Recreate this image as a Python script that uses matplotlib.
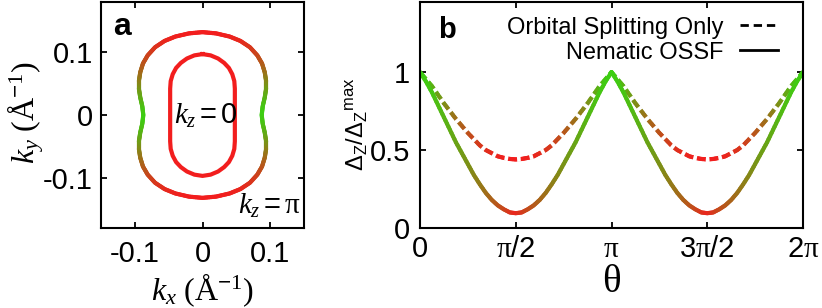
import numpy as np
import matplotlib
matplotlib.use("Agg")
import matplotlib.pyplot as plt
from matplotlib.collections import LineCollection
from matplotlib.colors import LinearSegmentedColormap, Normalize, PowerNorm
from matplotlib.lines import Line2D

plt.rcParams['font.family'] = 'Liberation Sans'
plt.rcParams['mathtext.fontset'] = 'custom'
plt.rcParams['mathtext.rm'] = 'Liberation Serif'
plt.rcParams['mathtext.it'] = 'Liberation Serif:italic'
plt.rcParams['mathtext.sf'] = 'Liberation Sans'
plt.rcParams['axes.unicode_minus'] = False
plt.rcParams['lines.scale_dashes'] = False

# ---- panel a: Fermi surfaces, first quadrant (top -> right side), mirrored
inner_kx = [0.000, 0.012, 0.023, 0.032, 0.039, 0.044, 0.047, 0.0478, 0.0478, 0.0478, 0.0478]
inner_ky = [0.097, 0.095, 0.090, 0.083, 0.075, 0.065, 0.054, 0.042, 0.028, 0.014, 0.000]

outer_kx = [0.000, 0.020, 0.040, 0.056, 0.070, 0.081, 0.088, 0.092, 0.094, 0.094, 0.092, 0.089, 0.0875]
outer_ky = [0.132, 0.130, 0.125, 0.118, 0.108, 0.095, 0.082, 0.068, 0.054, 0.042, 0.028, 0.014, 0.000]
# colour weight along the outer surface (0 = red, 1 = green)
outer_weight = [0.0, 0.0, 0.02, 0.06, 0.13, 0.22, 0.33, 0.45, 0.58, 0.70, 0.82, 0.93, 1.0]

# ---- panel b: normalised Zeeman gap, theta from 0 to pi/2 in steps of pi/32
# (the curves are symmetric about pi/2 and repeat with period pi)
gap_ossf_quarter = [1.00, 0.94, 0.87, 0.79, 0.71, 0.63, 0.55, 0.48, 0.41,
                    0.34, 0.28, 0.225, 0.18, 0.145, 0.12, 0.10, 0.095]
gap_orbital_quarter = [1.00, 0.955, 0.91, 0.855, 0.80, 0.75, 0.70, 0.655, 0.61,
                       0.57, 0.53, 0.50, 0.48, 0.46, 0.45, 0.443, 0.44]

theta_ticks = [0, 0.5, 1, 1.5, 2]
theta_ticklabels = ['0', r'$\mathrm{\pi}\mathsf{/2}$', r'$\mathrm{\pi}$',
                    r'$\mathsf{3}\mathrm{\pi}\mathsf{/2}$', r'$\mathsf{2}\mathrm{\pi}$']

RED = '#f21e1e'
GREEN = '#3ccf12'
cmap = LinearSegmentedColormap.from_list('redgreen', [RED, GREEN])


def closed_curve(qx, qy, qw=None):
    qx, qy = np.asarray(qx), np.asarray(qy)
    x = np.concatenate([qx, qx[::-1][1:], -qx[1:], -qx[::-1][1:]])
    y = np.concatenate([qy, -qy[::-1][1:], -qy[1:], qy[::-1][1:]])
    if qw is None:
        return x, y
    qw = np.asarray(qw)
    w = np.concatenate([qw, qw[::-1][1:], qw[1:], qw[::-1][1:]])
    return x, y, w


def full_period(q):
    half = list(q) + list(q[::-1][1:])      # 0 .. pi
    return np.array(half + half[1:])        # 0 .. 2 pi


def gradient_line(ax, x, y, c, norm, lw, sub=8, zorder=2):
    # colour each straight piece of the line; the drawn path is unchanged
    x, y, c = np.asarray(x), np.asarray(y), np.asarray(c, dtype=float)
    t = np.linspace(0, 1, sub + 1)
    segs, vals = [], []
    for i in range(len(x) - 1):
        xs = x[i] + (x[i + 1] - x[i]) * t
        ys = y[i] + (y[i + 1] - y[i]) * t
        cs = c[i] + (c[i + 1] - c[i]) * t
        for j in range(sub):
            segs.append([(xs[j], ys[j]), (xs[j + 1], ys[j + 1])])
            vals.append(0.5 * (cs[j] + cs[j + 1]))
    lc = LineCollection(segs, cmap=cmap, norm=norm, linewidths=lw,
                        capstyle='round', zorder=zorder)
    lc.set_array(np.array(vals))
    ax.add_collection(lc)
    return lc


W, H = 822, 308
fig = plt.figure(figsize=(W / 100, H / 100), dpi=100)
ax1 = fig.add_axes([101 / W, 1 - 228 / H, 203 / W, 226 / H])
ax2 = fig.add_axes([420 / W, 1 - 228 / H, 383 / W, 226 / H])

for ax in (ax1, ax2):
    for s in ax.spines.values():
        s.set_linewidth(1.5)
    ax.tick_params(direction='in', length=4, width=1.3, top=True, right=True,
                   labelsize=21)

# ---- panel a
ix, iy = closed_curve(inner_kx, inner_ky)
ax1.plot(ix, iy, color=RED, lw=3, solid_joinstyle='round')
ox, oy, ow = closed_curve(outer_kx, outer_ky, outer_weight)
gradient_line(ax1, ox, oy, ow, Normalize(0, 1), lw=3)

ax1.set_xlim(-0.15, 0.15)
ax1.set_ylim(-0.18, 0.18)
ax1.set_xticks([-0.1, 0, 0.1])
ax1.set_xticklabels(['-0.1', '0', '0.1'])
ax1.set_yticks([-0.1, 0, 0.1])
ax1.set_yticklabels(['-0.1', '0', '0.1'])
ax1.tick_params(axis='x', pad=9)
ax1.tick_params(axis='y', pad=6)

ax1.text(0.005, -0.0144, r'$k_z\mathsf{=0}$', fontsize=21, ha='center', va='baseline')
ax1.text(0.052, -0.158, r'$k_z\mathsf{=}\mathrm{\pi}$', fontsize=21, ha='left', va='baseline')

fig.text(202 / W, 1 - 290 / H, r'$k_x\ (\mathrm{Å}^{\mathsf{-}\mathrm{1}})$', fontsize=23,
         ha='center', va='center')
fig.text(26 / W, 1 - 113 / H, r'$k_y\ (\mathrm{Å}^{\mathsf{-}\mathrm{1}})$', fontsize=23,
         ha='center', va='center', rotation=90)
fig.text(113 / W, 1 - 35 / H, 'a', fontsize=23, fontweight='bold', va='baseline')

# ---- panel b
gap_ossf = full_period(gap_ossf_quarter)
gap_orbital = full_period(gap_orbital_quarter)
theta = np.arange(len(gap_ossf)) * np.pi / 32

dash_on, dash_off = 6.5, 2.6
gradient_line(ax2, theta, gap_orbital,
              gap_orbital, Normalize(min(gap_orbital), 1), lw=3, sub=4, zorder=2)
ax2.plot(theta, gap_orbital, color='white', lw=3.8, solid_capstyle='butt',
         dash_capstyle='butt', linestyle=(dash_off, (dash_off, dash_on)), zorder=2.1)
gradient_line(ax2, theta, gap_ossf,
              gap_ossf, PowerNorm(0.4, vmin=min(gap_ossf), vmax=1), lw=3, sub=4, zorder=2.2)

ax2.set_xlim(0, 2 * np.pi)
ax2.set_ylim(0, 1.45)
ax2.set_xticks(np.array(theta_ticks) * np.pi)
ax2.set_xticklabels(theta_ticklabels)
ax2.set_yticks([0, 0.5, 1])
ax2.set_yticklabels(['0', '0.5', '1'])
ax2.tick_params(axis='x', pad=5)
ax2.tick_params(axis='y', pad=7)

handles = [Line2D([], [], color='black', lw=2, linestyle=(0, (6, 3.5))),
           Line2D([], [], color='black', lw=2)]
ax2.legend(handles, ['Orbital Splitting Only', 'Nematic OSSF'], loc='upper right',
           bbox_to_anchor=(0.935, 0.935), frameon=False, fontsize=17,
           markerfirst=False, handlelength=1.6, handletextpad=0.72,
           labelspacing=0.12, borderpad=0, borderaxespad=0)

fig.text(611 / W, 1 - 282 / H, r'$\mathrm{\theta}$', fontsize=28, ha='center', va='center')
fig.text(357 / W, 1 - 124 / H, r'$\mathsf{\Delta_Z/\Delta_Z{}^{max}}$', fontsize=17,
         ha='center', va='center', rotation=90)
fig.text(438 / W, 1 - 38 / H, 'b', fontsize=21, fontweight='bold', va='baseline')

fig.savefig('out.png', dpi=100)
